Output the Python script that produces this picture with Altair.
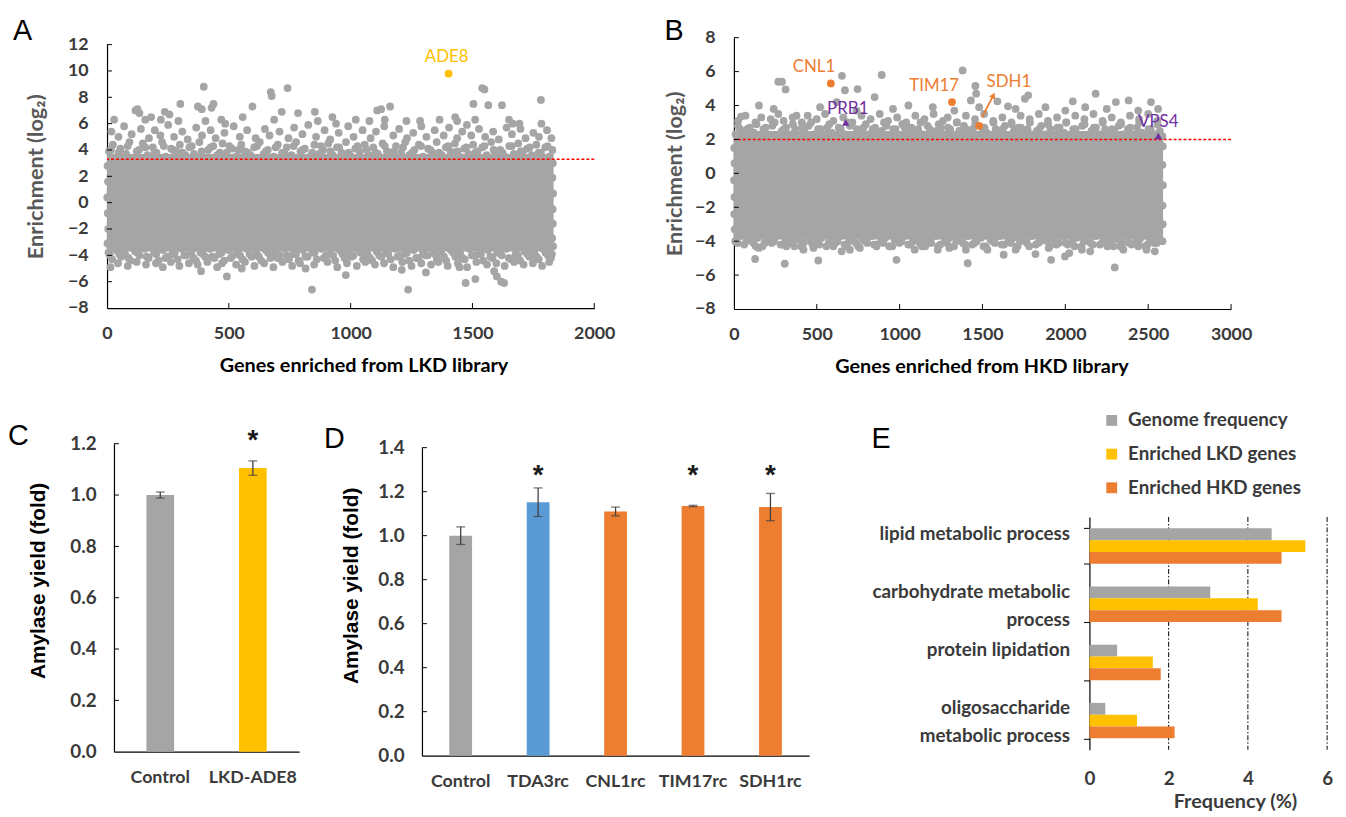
import altair as alt
import pandas as pd

# ---------------- colours & fonts ----------------
GRAY = "#A5A5A5"
YELLOW = "#FFC000"
ORANGE = "#ED7D31"
BLUE = "#5B9BD5"
PURPLE = "#7030A0"
RED = "#FF0000"
TEXT_DARK = "#3A3A3A"
TITLE_GRAY = "#595959"
FONT = "Lato"
ARIAL = "Liberation Sans"

# ---------------- Panel A data (LKD library) ----------------
A_X_TICKS = [0, 500, 1000, 1500, 2000]
A_Y_TICKS = [-8, -6, -4, -2, 0, 2, 4, 6, 8, 10, 12]
A_THRESHOLD = [3.3]
# dense core of the cloud (gene range and enrichment range that is solid grey)
A_CORE_FROM = [0]
A_CORE_TO = [1833]
A_CORE_LOW = [-3.7]
A_CORE_HIGH = [3.7]
A_UPPER = [(8,3.9),(24,4.4),(41,3.5),(55,4.1),(78,3.7),(92,4.6),(112,3.4),(131,4.0),(147,4.5),(166,3.6),
           (188,4.2),(203,3.8),(226,4.6),(241,3.5),(263,4.1),(284,3.9),(299,4.4),(322,3.6),(338,4.2),(357,3.7),
           (379,4.6),(398,3.4),(415,4.0),(436,4.3),(452,3.6),(474,4.5),(491,3.8),(513,4.1),(529,3.5),(551,4.4),
           (566,3.9),(589,3.6),(604,4.2),(627,4.6),(643,3.7),(660,4.0),(684,3.5),(701,4.4),(719,3.8),(738,4.2),
           (757,3.6),(776,4.6),(794,3.9),(812,4.1),(833,3.5),(851,4.4),(869,3.7),(887,4.0),(908,4.5),(926,3.6),
           (944,4.2),(963,3.8),(981,4.6),(1002,3.5),(1019,4.1),(1037,3.9),(1058,4.4),(1074,3.6),(1093,4.2),(1112,3.7),
           (1131,4.5),(1149,3.9),(1168,3.5),(1186,4.3),(1207,3.8),(1224,4.6),(1241,3.6),(1262,4.0),(1280,4.4),(1297,3.5),
           (1318,4.1),(1336,3.8),(1353,4.6),(1374,3.6),(1391,4.2),(1410,3.9),(1428,4.5),(1447,3.5),(1466,4.1),(1484,3.7),
           (1503,4.4),(1521,3.9),(1540,4.2),(1558,3.6),(1577,4.6),(1596,3.8),(1614,4.0),(1633,3.5),(1651,4.3),(1670,3.7),
           (1688,4.5),(1707,3.9),(1725,4.1),(1744,3.6),(1762,4.4),(1781,3.8),(1799,4.2),(1816,3.5),(1828,4.0)]
A_UPPER2 = [(16,4.0),(48,3.8),(85,4.3),(122,3.9),(157,4.2),(196,3.8),(233,4.3),(272,4.0),(310,3.8),(348,4.3),
            (388,3.9),(425,4.2),(463,3.8),(502,4.3),(540,4.0),(578,3.8),(616,4.3),(652,3.9),(692,4.2),(728,3.8),
            (766,4.3),(803,4.0),(842,3.8),(878,4.3),(917,3.9),(953,4.2),(992,3.8),(1028,4.3),(1066,4.0),(1102,3.8),
            (1140,4.3),(1177,3.9),(1215,4.2),(1252,3.8),(1289,4.3),(1327,4.0),(1363,3.8),(1400,4.3),(1438,3.9),(1475,4.2),
            (1512,3.8),(1549,4.3),(1587,4.0),(1623,3.8),(1661,4.3),(1698,3.9),(1735,4.2),(1772,3.8),(1808,4.3)]
A_MID = [(18,5.4),(47,5.0),(70,5.8),(101,5.2),(139,5.6),(172,4.9),(196,5.5),(219,5.1),(251,5.9),(275,5.0),
         (309,5.4),(331,4.8),(366,5.7),(390,5.1),(425,5.5),(446,4.9),(482,5.3),(520,5.8),(545,5.0),(575,5.5),
         (610,4.9),(648,5.6),(667,5.1),(708,5.4),(745,4.9),(768,5.7),(802,5.2),(826,5.9),(858,5.0),(893,5.5),
         (916,4.8),(951,5.3),(990,5.8),(1012,5.0),(1049,5.5),(1082,4.9),(1104,5.4),(1138,5.8),(1175,5.1),(1199,5.6),
         (1231,4.9),(1257,5.3),(1290,5.8),(1311,5.0),(1345,5.5),(1382,5.1),(1404,5.7),(1437,4.9),(1458,5.4),(1477,5.9),
         (1495,5.1),(1527,5.6),(1552,5.0),(1585,5.4),(1608,4.8),(1640,5.7),(1662,5.2),(1697,5.6),(1718,4.9),(1750,5.3),
         (1773,5.0),(1806,5.5),(1824,4.9)]
A_HIGH = [(29,6.3),(117,7.0),(125,7.1),(133,6.8),(157,6.3),(181,6.5),(221,6.3),(237,6.9),(256,6.7),(293,6.2),
          (301,7.5),(373,7.3),(389,7.1),(397,8.8),(404,6.2),(429,7.2),(437,7.5),(469,6.3),(485,6.0),(557,6.5),
          (597,7.3),(672,8.4),(676,8.1),(686,6.3),(717,6.9),(741,8.7),(784,6.8),(853,6.9),(865,6.2),(925,6.5),
          (940,6.0),(1021,6.3),(1077,6.2),(1109,7.0),(1125,7.1),(1140,6.3),(1162,7.3),(1229,6.2),(1285,6.2),(1365,6.3),
          (1429,6.5),(1437,6.2),(1504,7.5),(1511,6.3),(1540,8.7),(1549,8.6),(1565,7.4),(1621,7.4),(1650,6.3),(1665,6.0),
          (1693,6.0),(1781,7.8),(1783,6.0)]
A_LOWER = [(6,-3.8),(21,-4.3),(37,-3.6),(58,-4.1),(74,-3.9),(96,-4.4),(115,-3.7),(133,-4.0),(154,-3.5),(171,-4.2),
           (193,-3.8),(212,-4.4),(230,-3.6),(249,-4.1),(268,-3.9),(290,-4.3),(307,-3.5),(326,-4.0),(347,-3.7),(365,-4.4),
           (384,-3.8),(403,-4.1),(423,-3.5),(441,-4.2),(460,-3.9),(481,-4.4),(498,-3.6),(517,-4.0),(538,-3.8),(556,-4.3),
           (575,-3.5),(594,-4.1),(614,-3.9),(633,-4.4),(651,-3.6),(671,-4.2),(690,-3.8),(709,-4.0),(729,-3.5),(747,-4.3),
           (766,-3.9),(786,-4.4),(804,-3.6),(823,-4.1),(842,-3.8),(861,-4.3),(880,-3.5),(899,-4.0),(918,-3.9),(937,-4.4),
           (955,-3.6),(975,-4.2),(994,-3.8),(1012,-4.0),(1031,-3.5),(1051,-4.3),(1069,-3.9),(1088,-4.4),(1107,-3.7),(1126,-4.1),
           (1145,-3.8),(1164,-4.3),(1183,-3.5),(1202,-4.0),(1221,-3.9),(1240,-4.4),(1259,-3.6),(1278,-4.2),(1297,-3.8),(1316,-4.0),
           (1335,-3.5),(1354,-4.3),(1373,-3.9),(1392,-4.4),(1411,-3.6),(1430,-4.1),(1449,-3.8),(1468,-4.3),(1487,-3.5),(1506,-4.0),
           (1525,-3.9),(1544,-4.4),(1563,-3.6),(1582,-4.2),(1601,-3.8),(1620,-4.0),(1639,-3.5),(1658,-4.3),(1677,-3.9),(1696,-4.4),
           (1715,-3.7),(1734,-4.1),(1753,-3.8),(1772,-4.3),(1791,-3.5),(1810,-4.0),(1826,-3.9)]
A_LOWER2 = [(12,-4.0),(50,-3.9),(88,-4.2),(125,-3.8),(163,-4.1),(202,-3.9),(240,-4.2),(278,-3.8),(317,-4.0),(355,-4.2),
            (394,-3.9),(432,-4.1),(470,-3.8),(508,-4.2),(546,-4.0),(585,-3.9),(623,-4.1),(661,-3.8),(700,-4.2),(738,-4.0),
            (776,-3.9),(814,-4.1),(852,-3.8),(890,-4.2),(928,-4.0),(966,-3.9),(1004,-4.1),(1042,-3.8),(1079,-4.2),(1117,-4.0),
            (1155,-3.9),(1193,-4.1),(1231,-3.8),(1269,-4.2),(1307,-4.0),(1345,-3.9),(1383,-4.1),(1421,-3.8),(1459,-4.2),(1497,-4.0),
            (1535,-3.9),(1573,-4.1),(1611,-3.8),(1649,-4.2),(1687,-4.0),(1725,-3.9),(1763,-4.1),(1800,-3.8),(1822,-4.2)]
A_LOWER_MID = [(14,-4.9),(45,-4.6),(85,-4.8),(122,-4.5),(160,-4.7),(201,-4.6),(229,-4.9),(262,-4.5),(297,-4.8),(336,-4.6),
               (372,-4.7),(412,-4.5),(452,-4.9),(472,-4.6),(530,-4.7),(566,-4.5),(605,-4.8),(645,-4.6),(683,-4.9),(720,-4.5),
               (760,-4.8),(792,-4.6),(815,-5.0),(850,-4.7),(905,-4.5),(945,-4.9),(985,-4.6),(1025,-4.8),(1060,-4.5),(1100,-4.7),
               (1137,-4.6),(1175,-4.9),(1212,-4.5),(1250,-4.8),(1290,-4.6),(1330,-4.7),(1360,-4.5),(1398,-4.8),(1440,-4.6),(1478,-4.9),
               (1516,-4.5),(1560,-4.7),(1598,-4.6),(1632,-4.8),(1671,-4.5),(1710,-4.7),(1748,-4.6),(1786,-4.8),(1815,-4.5)]
A_LOW_OUT = [(386,-5.2),(492,-5.6),(553,-5.0),(841,-6.6),(980,-5.5),(1210,-5.1),(1236,-6.6),(1309,-5.3),(1447,-4.9),
             (1472,-6.1),(1512,-5.8),(1589,-5.2),(1600,-5.6),(1618,-6.0),(1630,-6.1)]
A_EDGES = [(2,2.8),(4,1.6),(1,0.4),(3,-0.8),(5,-2.0),(2,-3.1),(1830,3.0),(1828,1.9),(1831,0.7),(1829,-0.5),
           (1830,-1.6),(1827,-2.7),(1831,-3.3)]
A_HIT_NAME = ["ADE8"]
A_HIT_GENE = [1402]
A_HIT_VALUE = [9.8]

# ---------------- Panel B data (HKD library) ----------------
B_X_TICKS = [0, 500, 1000, 1500, 2000, 2500, 3000]
B_Y_TICKS = [-8, -6, -4, -2, 0, 2, 4, 6, 8]
B_THRESHOLD = [2.0]
B_CORE_FROM = [0]
B_CORE_TO = [2590]
B_CORE_LOW = [-3.9]
B_CORE_HIGH = [2.5]
B_UPPER = [(10,2.3),(38,2.6),(62,2.2),(95,2.7),(121,2.4),(150,2.1),(178,2.6),(205,2.3),(232,2.8),(260,2.2),
           (289,2.5),(315,2.7),(342,2.3),(370,2.6),(398,2.1),(425,2.5),(452,2.8),(480,2.3),(508,2.6),(535,2.2),
           (562,2.7),(590,2.4),(618,2.1),(645,2.6),(672,2.3),(700,2.8),(728,2.2),(755,2.5),(782,2.7),(810,2.3),
           (838,2.6),(865,2.1),(892,2.5),(920,2.8),(948,2.3),(975,2.6),(1002,2.2),(1030,2.7),(1058,2.4),(1085,2.1),
           (1112,2.6),(1140,2.3),(1168,2.8),(1195,2.2),(1222,2.5),(1250,2.7),(1278,2.3),(1305,2.6),(1332,2.1),(1360,2.5),
           (1388,2.8),(1415,2.3),(1442,2.6),(1470,2.2),(1498,2.7),(1525,2.4),(1552,2.1),(1580,2.6),(1608,2.3),(1635,2.8),
           (1662,2.2),(1690,2.5),(1718,2.7),(1745,2.3),(1772,2.6),(1800,2.1),(1828,2.5),(1855,2.8),(1882,2.3),(1910,2.6),
           (1938,2.2),(1965,2.7),(1992,2.4),(2020,2.1),(2048,2.6),(2075,2.3),(2102,2.8),(2130,2.2),(2158,2.5),(2185,2.7),
           (2212,2.3),(2240,2.6),(2268,2.1),(2295,2.5),(2322,2.8),(2350,2.3),(2378,2.6),(2405,2.2),(2432,2.7),(2460,2.4),
           (2488,2.1),(2515,2.6),(2542,2.3),(2570,2.5),(2586,2.2)]
B_UPPER2 = [(24,2.8),(80,2.6),(136,2.9),(192,2.7),(246,3.0),(302,2.6),(356,2.9),(412,2.7),(466,3.0),(522,2.6),
            (576,2.9),(632,2.7),(686,3.0),(742,2.6),(796,2.9),(852,2.7),(906,3.0),(962,2.6),(1016,2.9),(1072,2.7),
            (1126,3.0),(1182,2.6),(1236,2.9),(1292,2.7),(1346,3.0),(1402,2.6),(1456,2.9),(1512,2.7),(1566,3.0),(1622,2.6),
            (1676,2.9),(1732,2.7),(1786,3.0),(1842,2.6),(1896,2.9),(1952,2.7),(2006,3.0),(2062,2.6),(2116,2.9),(2172,2.7),
            (2226,3.0),(2282,2.6),(2336,2.9),(2392,2.7),(2446,3.0),(2502,2.6),(2556,2.9)]
B_MID = [(25,3.1),(70,3.4),(130,3.0),(165,3.3),(222,3.2),(268,3.5),(300,3.1),(355,3.3),(410,3.0),(445,3.4),
         (500,3.2),(550,3.5),(600,3.1),(660,3.3),(715,3.0),(770,3.4),(825,3.2),(880,3.5),(930,3.1),(985,3.3),
         (1040,3.0),(1095,3.4),(1150,3.2),(1205,3.5),(1262,3.1),(1290,3.3),(1345,3.0),(1400,3.4),(1455,3.2),(1510,3.5),
         (1565,3.1),(1620,3.3),(1675,3.0),(1730,3.4),(1785,3.2),(1840,3.5),(1895,3.1),(1950,3.3),(2005,3.0),(2060,3.4),
         (2115,3.2),(2170,3.5),(2225,3.1),(2280,3.3),(2335,3.0),(2390,3.4),(2445,3.2),(2500,3.5),(2555,3.1)]
B_HIGH = [(43,3.35),(151,4.0),(240,3.8),(378,3.4),(520,3.9),(620,4.2),(740,3.7),(849,4.5),(960,3.8),(1053,4.0),
          (1200,3.9),(1330,3.7),(1430,4.3),(1480,3.9),(1590,4.25),(1654,3.95),(1700,3.8),(1756,4.4),(1776,4.6),(1880,3.9),
          (2000,3.7),(2045,4.25),(2120,3.9),(2183,4.7),(2250,3.8),(2305,4.2),(2382,4.3),(2440,3.7),(2517,4.2),(2560,3.8),
          (268,5.4),(290,5.4),(312,4.95),(652,5.75),(670,4.9),(746,4.97),(892,5.8),(1380,6.07),(1457,5.15),(1462,4.7)]
B_LOWER = [(8,-4.0),(35,-3.7),(62,-4.2),(90,-3.9),(118,-4.1),(145,-3.8),(172,-4.3),(200,-3.9),(228,-4.1),(255,-3.7),
           (282,-4.2),(310,-4.0),(338,-3.8),(365,-4.3),(392,-3.9),(420,-4.1),(448,-3.7),(475,-4.2),(502,-4.0),(530,-3.8),
           (558,-4.3),(585,-3.9),(612,-4.1),(640,-3.7),(668,-4.2),(695,-4.0),(722,-3.8),(750,-4.3),(778,-3.9),(805,-4.1),
           (832,-3.7),(860,-4.2),(888,-4.0),(915,-3.8),(942,-4.3),(970,-3.9),(998,-4.1),(1025,-3.7),(1052,-4.2),(1080,-4.0),
           (1108,-3.8),(1135,-4.3),(1162,-3.9),(1190,-4.1),(1218,-3.7),(1245,-4.2),(1272,-4.0),(1300,-3.8),(1328,-4.3),(1355,-3.9),
           (1382,-4.1),(1410,-3.7),(1438,-4.2),(1465,-4.0),(1492,-3.8),(1520,-4.3),(1548,-3.9),(1575,-4.1),(1602,-3.7),(1630,-4.2),
           (1658,-4.0),(1685,-3.8),(1712,-4.3),(1740,-3.9),(1768,-4.1),(1795,-3.7),(1822,-4.2),(1850,-4.0),(1878,-3.8),(1905,-4.3),
           (1932,-3.9),(1960,-4.1),(1988,-3.7),(2015,-4.2),(2042,-4.0),(2070,-3.8),(2098,-4.3),(2125,-3.9),(2152,-4.1),(2180,-3.7),
           (2208,-4.2),(2235,-4.0),(2262,-3.8),(2290,-4.3),(2318,-3.9),(2345,-4.1),(2372,-3.7),(2400,-4.2),(2428,-4.0),(2455,-3.8),
           (2482,-4.3),(2510,-3.9),(2538,-4.1),(2565,-3.7),(2586,-4.0)]
B_LOWER2 = [(22,-4.1),(76,-4.0),(132,-4.3),(186,-4.1),(242,-4.0),(296,-4.2),(352,-4.1),(406,-4.3),(462,-4.0),(516,-4.2),
            (572,-4.1),(626,-4.0),(682,-4.3),(736,-4.1),(792,-4.0),(846,-4.2),(902,-4.1),(956,-4.3),(1012,-4.0),(1066,-4.2),
            (1122,-4.1),(1176,-4.0),(1232,-4.3),(1286,-4.1),(1342,-4.0),(1396,-4.2),(1452,-4.1),(1506,-4.3),(1562,-4.0),(1616,-4.2),
            (1672,-4.1),(1726,-4.0),(1782,-4.3),(1836,-4.1),(1892,-4.0),(1946,-4.2),(2002,-4.1),(2056,-4.3),(2112,-4.0),(2166,-4.2),
            (2222,-4.1),(2276,-4.0),(2332,-4.3),(2386,-4.1),(2442,-4.0),(2496,-4.2),(2552,-4.1)]
B_LOWER_MID = [(150,-4.4),(317,-4.3),(420,-4.5),(480,-4.4),(600,-4.3),(650,-4.6),(700,-4.5),(760,-4.4),(861,-4.3),(938,-4.3),
               (1091,-4.5),(1155,-4.3),(1230,-4.5),(1300,-4.4),(1400,-4.5),(1530,-4.5),(1628,-4.8),(1700,-4.5),(1820,-4.76),(1900,-4.4),
               (1998,-4.9),(2024,-4.7),(2100,-4.5),(2150,-4.6),(2254,-4.3),(2350,-4.5),(2440,-4.3),(2490,-4.5),(2540,-4.6)]
B_LOW_OUT = [(128,-5.05),(307,-5.33),(509,-5.14),(981,-5.1),(1411,-5.3),(1914,-5.1),(2298,-5.55)]
B_EDGES = [(2,1.5),(4,0.6),(1,-0.4),(3,-1.4),(2,-2.4),(5,-3.3),(2588,1.6),(2586,0.5),(2589,-0.7),(2587,-1.9),(2588,-3.0)]
B_HIT_NAME = ["CNL1", "TIM17", "SDH1", "PRB1", "VPS4"]
B_HIT_GENE = [585, 1316, 1480, 675, 2561]
B_HIT_VALUE = [5.3, 4.2, 2.8, 3.0, 2.2]
B_HIT_KIND = ["circle", "circle", "circle", "triangle", "triangle"]
B_ARROW_FROM = [(1497, 3.3)]
B_ARROW_TO = [(1566, 4.6)]

# ---------------- Panel C / D data ----------------
C_GROUPS = ["Control", "LKD-ADE8"]
C_YIELD = [1.0, 1.105]
C_ERR = [0.012, 0.028]
C_STARRED = ["LKD-ADE8"]
C_Y_TICKS = [0.0, 0.2, 0.4, 0.6, 0.8, 1.0, 1.2]

D_GROUPS = ["Control", "TDA3rc", "CNL1rc", "TIM17rc", "SDH1rc"]
D_YIELD = [1.0, 1.152, 1.11, 1.135, 1.13]
D_ERR = [0.04, 0.065, 0.02, 0.003, 0.062]
D_STARRED = ["TDA3rc", "TIM17rc", "SDH1rc"]
D_Y_TICKS = [0.0, 0.2, 0.4, 0.6, 0.8, 1.0, 1.2, 1.4]

# ---------------- Panel E data ----------------
E_TERMS = ["lipid metabolic process", "carbohydrate metabolic|process", "protein lipidation",
           "oligosaccharide |metabolic process"]
E_SERIES = ["Genome frequency", "Enriched LKD genes", "Enriched HKD genes"]
E_GENOME = [4.6, 3.05, 0.7, 0.4]
E_LKD = [5.45, 4.25, 1.6, 1.2]
E_HKD = [4.85, 4.85, 1.8, 2.15]
E_X_TICKS = [0, 2, 4, 6]
E_GRID = [2, 4, 6]

# ---------------- style (positions/sizes, pixels) ----------------
A_W, A_H, A_TOP = 492, 273, 7
B_W, B_H = 502, 274
C_W, C_H, C_LEFT = 194, 311, 7
D_W, D_H, D_TOP = 391, 315, 4
E_W, E_H, E_TOP = 240, 309, 74
PT_SIZE = 62
LABEL_OFFSETS = {"ADE8": (-2, -17), "CNL1": (-17, -17), "TIM17": (-18, -16), "SDH1": (30, -44),
                 "PRB1": (2, -14), "VPS4": (0, -14)}


def spacer(w, h):
    return alt.Chart(pd.DataFrame({"s": [0]})).mark_point(opacity=0, size=1).encode(
        x=alt.value(0), y=alt.value(0)).properties(width=w, height=h)


def letter(t, x, y):
    return alt.Chart(pd.DataFrame({"t": [t]})).mark_text(
        align="left", baseline="alphabetic", font=ARIAL, fontSize=29, color="black"
    ).encode(text="t:N", x=alt.value(x), y=alt.value(y))


def scatter_axes(xticks, yticks, xtitle, title_xy, xtitle_x):
    x_axis = alt.Axis(values=xticks, format="d", ticks=False, grid=False, domainColor="black",
                      domainWidth=1.2, labelFont=FONT, labelFontSize=18, labelFontWeight="bold",
                      labelColor=TEXT_DARK, labelPadding=17, labelFlush=False, labelOverlap=False,
                      title=xtitle, titleFont=FONT, titleFontSize=20, titleFontWeight="bold",
                      titleColor="black", titleX=xtitle_x, titleY=58, titleBaseline="middle")
    y_axis = alt.Axis(values=yticks, format="d", ticks=False, grid=False, domainColor="black",
                      domainWidth=1.2, labelFont=FONT, labelFontSize=18, labelFontWeight="bold",
                      labelColor=TEXT_DARK, labelPadding=19, labelFlush=False, labelOverlap=False,
                      title="Enrichment  (log₂)", titleFont=FONT, titleFontSize=22,
                      titleFontWeight="bold", titleColor=TITLE_GRAY, titleX=title_xy[0],
                      titleY=title_xy[1], titleAngle=-90, titleAlign="center", titleBaseline="middle")
    return x_axis, y_axis


def scatter_panel(core, pts, thr, xdom, ydom, xticks, yticks, h, top, ax):
    x_axis, y_axis = ax
    xs = alt.Scale(domain=xdom, nice=False, zero=False)
    ys = alt.Scale(domain=ydom, range=[h, top], nice=False, zero=False)
    core_layer = alt.Chart(core).mark_rect(color=GRAY).encode(
        x=alt.X("g0:Q", scale=xs, axis=x_axis), x2="g1:Q",
        y=alt.Y("lo:Q", scale=ys, axis=y_axis), y2="hi:Q")
    pts_layer = alt.Chart(pts).mark_circle(color=GRAY, size=PT_SIZE, opacity=1).encode(
        x=alt.X("gene:Q", axis=x_axis), y=alt.Y("enrichment:Q", axis=y_axis))
    thr_layer = alt.Chart(pd.DataFrame({"t": thr})).mark_rule(
        color=RED, strokeDash=[3, 2], strokeWidth=1.6).encode(y=alt.Y("t:Q", axis=y_axis))
    ytk = alt.Chart(pd.DataFrame({"v": [v for v in yticks if v != ydom[0]]})).mark_rule(
        color="black", strokeWidth=1).encode(
        y=alt.Y("v:Q", axis=y_axis), x=alt.value(0), x2=alt.value(5))
    xtk = alt.Chart(pd.DataFrame({"v": [v for v in xticks if v != xdom[0]]})).mark_rule(
        color="black", strokeWidth=1).encode(
        x=alt.X("v:Q", axis=x_axis), y=alt.value(h), y2=alt.value(h - 5))
    return [core_layer, pts_layer, thr_layer, ytk, xtk]


def hit_layers(names, genes, values, colors, shapes, ax):
    x_axis, y_axis = ax
    layers = []
    for n, g, v, c, s in zip(names, genes, values, colors, shapes):
        d = pd.DataFrame({"gene": [g], "enrichment": [v], "name": [n]})
        if s == "circle":
            mk = alt.Chart(d).mark_circle(color=c, size=PT_SIZE, opacity=1)
        else:
            mk = alt.Chart(d).mark_point(shape="triangle-up", filled=True, color=c, size=55, opacity=1)
        layers.append(mk.encode(x=alt.X("gene:Q", axis=x_axis), y=alt.Y("enrichment:Q", axis=y_axis)))
        dx, dy = LABEL_OFFSETS[n]
        layers.append(alt.Chart(d).mark_text(font=FONT, fontSize=17, color=c, dx=dx, dy=dy,
                                             baseline="middle", align="center").encode(
            x=alt.X("gene:Q", axis=x_axis), y=alt.Y("enrichment:Q", axis=y_axis), text="name:N"))
    return layers


# ---------------- Panel A ----------------
a_ax = scatter_axes(A_X_TICKS, A_Y_TICKS, "Genes enriched from LKD library", (-72, 140), 259)
a_core = pd.DataFrame({"g0": A_CORE_FROM, "g1": A_CORE_TO, "lo": A_CORE_LOW, "hi": A_CORE_HIGH})
a_pts = pd.DataFrame(A_UPPER + A_UPPER2 + A_MID + A_HIGH + A_LOWER + A_LOWER2 + A_LOWER_MID
                     + A_LOW_OUT + A_EDGES, columns=["gene", "enrichment"])
panel_a = alt.layer(
    *scatter_panel(a_core, a_pts, A_THRESHOLD, [0, 2000], [-8, 12], A_X_TICKS, A_Y_TICKS,
                   A_H, A_TOP, a_ax),
    *hit_layers(A_HIT_NAME, A_HIT_GENE, A_HIT_VALUE, [YELLOW], ["circle"], a_ax),
    letter("A", -95, 2),
).properties(width=A_W, height=A_H)

# ---------------- Panel B ----------------
b_ax = scatter_axes(B_X_TICKS, B_Y_TICKS, "Genes enriched from HKD library", (-60, 137), 250)
b_core = pd.DataFrame({"g0": B_CORE_FROM, "g1": B_CORE_TO, "lo": B_CORE_LOW, "hi": B_CORE_HIGH})
b_pts = pd.DataFrame(B_UPPER + B_UPPER2 + B_MID + B_HIGH + B_LOWER + B_LOWER2 + B_LOWER_MID
                     + B_LOW_OUT + B_EDGES, columns=["gene", "enrichment"])
arrow = pd.DataFrame({"x0": [p[0] for p in B_ARROW_FROM], "y0": [p[1] for p in B_ARROW_FROM],
                      "x1": [p[0] for p in B_ARROW_TO], "y1": [p[1] for p in B_ARROW_TO]})
arrow_line = alt.Chart(arrow).mark_rule(color=ORANGE, strokeWidth=1.8).encode(
    x=alt.X("x0:Q", axis=b_ax[0]), y=alt.Y("y0:Q", axis=b_ax[1]), x2="x1:Q", y2="y1:Q")
arrow_head = alt.Chart(arrow).mark_point(shape="triangle-up", filled=True, color=ORANGE,
                                         size=45, angle=27, opacity=1).encode(
    x=alt.X("x1:Q", axis=b_ax[0]), y=alt.Y("y1:Q", axis=b_ax[1]))
b_colors = [ORANGE if k == "circle" else PURPLE for k in B_HIT_KIND]
panel_b = alt.layer(
    *scatter_panel(b_core, b_pts, B_THRESHOLD, [0, 3000], [-8, 8], B_X_TICKS, B_Y_TICKS,
                   B_H, 0, b_ax),
    arrow_line, arrow_head,
    *hit_layers(B_HIT_NAME, B_HIT_GENE, B_HIT_VALUE, b_colors, B_HIT_KIND, b_ax),
    letter("B", -70, 2),
).properties(width=B_W, height=B_H)


# ---------------- bar panels C / D ----------------
def bar_panel(groups, vals, errs, colors, starred, ydom, yticks, w, h, left, top, bar_w,
              star_level, let, let_xy, title_xy):
    df = pd.DataFrame({"group": groups, "yield": vals, "col": colors,
                       "lo": [v - e for v, e in zip(vals, errs)],
                       "hi": [v + e for v, e in zip(vals, errs)]})
    x_axis = alt.Axis(title=None, labelAngle=0, ticks=False, domainColor="black",
                      domainWidth=1.2, labelFont=FONT, labelFontSize=18,
                      labelFontWeight="bold", labelColor=TEXT_DARK, labelPadding=17)
    axis_kw = dict(values=yticks, format=".1f", ticks=False, grid=False,
                   domainColor="black", domainWidth=1.2, labelFont=FONT,
                   labelFontSize=19, labelFontWeight="bold", labelColor=TEXT_DARK,
                   labelPadding=18, labelFlush=False, labelOverlap=False,
                   title="Amylase yield (fold)", titleFont=ARIAL, titleFontSize=21,
                   titleFontWeight="bold", titleColor="black", titleX=title_xy[0],
                   titleY=title_xy[1], titleAngle=-90, titleAlign="center",
                   titleBaseline="middle")
    if left:
        axis_kw["offset"] = -left
    y_axis = alt.Axis(**axis_kw)
    xs = alt.X("group:N", sort=groups,
               scale=alt.Scale(range=[left, w], paddingInner=0, paddingOuter=0), axis=x_axis)
    ys = alt.Y("yield:Q", scale=alt.Scale(domain=ydom, range=[h, top], nice=False, zero=True),
               axis=y_axis)
    gx = alt.X("group:N", sort=groups, axis=x_axis)
    bars = alt.Chart(df).mark_bar(size=bar_w).encode(
        x=xs, y=ys, color=alt.Color("col:N", scale=None))
    err = alt.Chart(df).mark_rule(color="#404040", strokeWidth=1.3).encode(
        x=gx, y=alt.Y("lo:Q", axis=y_axis), y2="hi:Q")
    cap_lo = alt.Chart(df).mark_tick(color="#404040", size=9, thickness=1.3).encode(
        x=gx, y=alt.Y("lo:Q", axis=y_axis))
    cap_hi = alt.Chart(df).mark_tick(color="#404040", size=9, thickness=1.3).encode(
        x=gx, y=alt.Y("hi:Q", axis=y_axis))
    stars = alt.Chart(pd.DataFrame({"group": starred, "lvl": [star_level] * len(starred),
                                    "s": ["*"] * len(starred)})).mark_text(
        font=ARIAL, fontSize=28, fontWeight="bold", color="#1A1A1A", baseline="middle").encode(
        x=gx, y=alt.Y("lvl:Q", axis=y_axis), text="s:N")
    ytk = alt.Chart(pd.DataFrame({"v": [v for v in yticks if v != 0]})).mark_rule(
        color="black", strokeWidth=1).encode(
        y=alt.Y("v:Q", axis=y_axis), x=alt.value(left), x2=alt.value(left + 5))
    return alt.layer(bars, err, cap_lo, cap_hi, stars, ytk,
                     letter(let, *let_xy)).properties(width=w, height=h)


panel_c = bar_panel(C_GROUPS, C_YIELD, C_ERR, [GRAY, YELLOW], C_STARRED, [0, 1.2], C_Y_TICKS,
                    C_W, C_H, C_LEFT, 0, 28, 1.21, "C", (-100, 1), (-76, 138))
panel_d = bar_panel(D_GROUPS, D_YIELD, D_ERR, [GRAY, BLUE, ORANGE, ORANGE, ORANGE], D_STARRED,
                    [0, 1.4], D_Y_TICKS, D_W, D_H, 0, D_TOP, 23, 1.27, "D", (-99, 4), (-71, 143))

# ---------------- Panel E ----------------
e_rows = []
for term, g, l, hk in zip(E_TERMS, E_GENOME, E_LKD, E_HKD):
    for s, v in zip(E_SERIES, [g, l, hk]):
        e_rows.append({"term": term, "series": s, "freq": v})
e_df = pd.DataFrame(e_rows)

e_x_axis = alt.Axis(values=E_X_TICKS, grid=False, domain=False, ticks=False,
                    labelFont=FONT, labelFontSize=19,
                    labelFontWeight="bold", labelColor=TEXT_DARK, labelPadding=20,
                    labelFlush=False, title="Frequency (%)", titleFont=FONT, titleFontSize=20,
                    titleFontWeight="bold", titleColor=TEXT_DARK, titleX=147, titleY=52,
                    titleBaseline="middle")
e_grid = alt.Chart(pd.DataFrame({"g": E_GRID})).mark_rule(
    color="black", strokeDash=[5, 2, 1.5, 2], strokeWidth=1).encode(
    x=alt.X("g:Q", axis=e_x_axis), y=alt.value(E_TOP), y2=alt.value(E_H))
e_bars = alt.Chart(e_df).mark_bar().encode(
    y=alt.Y("term:N", sort=E_TERMS,
            scale=alt.Scale(range=[E_TOP, E_H], paddingInner=0.39, paddingOuter=0.195),
            axis=alt.Axis(title=None, tickBand="extent", tickSize=6, tickColor="black",
                          domainColor="black", domainWidth=1.2,
                          labelExpr="isValid(datum.value) ? split(datum.value, '|') : ''",
                          labelFont=FONT, labelFontSize=19, labelFontWeight="bold",
                          labelColor=TEXT_DARK, labelLineHeight=28, labelBaseline="middle",
                          labelOffset=-13, labelPadding=14, labelLimit=400)),
    yOffset=alt.YOffset("series:N", sort=E_SERIES),
    x=alt.X("freq:Q", scale=alt.Scale(domain=[0, 6], nice=False), axis=e_x_axis),
    color=alt.Color("series:N", sort=E_SERIES,
                    scale=alt.Scale(domain=E_SERIES, range=[GRAY, YELLOW, ORANGE]),
                    legend=alt.Legend(orient="none", legendX=13, legendY=-33, title=None,
                                      symbolType="square", symbolSize=120, symbolStrokeWidth=0,
                                      labelFont=FONT, labelFontSize=19, labelFontWeight="bold",
                                      labelColor=TEXT_DARK, rowPadding=14, labelOffset=7,
                                      labelLimit=400, padding=0)),
)
panel_e = alt.layer(e_grid, e_bars, letter("E", -220, 4)).properties(width=E_W, height=E_H)

# ---------------- layout ----------------
top_row = alt.hconcat(panel_a, panel_b, spacing=141, bounds="flush")
bottom_row = alt.hconcat(panel_c, panel_d, spacer(35, 1), panel_e, spacing=124,
                         bounds="flush").resolve_scale(color="independent").resolve_legend(
    color="independent")

chart = alt.vconcat(top_row, bottom_row, spacing=35).resolve_scale(
    color="independent").resolve_legend(color="independent").properties(
    padding={"left": 0, "top": 5, "right": 5, "bottom": 5}
).configure(font=FONT).configure_view(stroke=None)

chart.save("out.html", embed_options={"renderer": "svg", "actions": False})
